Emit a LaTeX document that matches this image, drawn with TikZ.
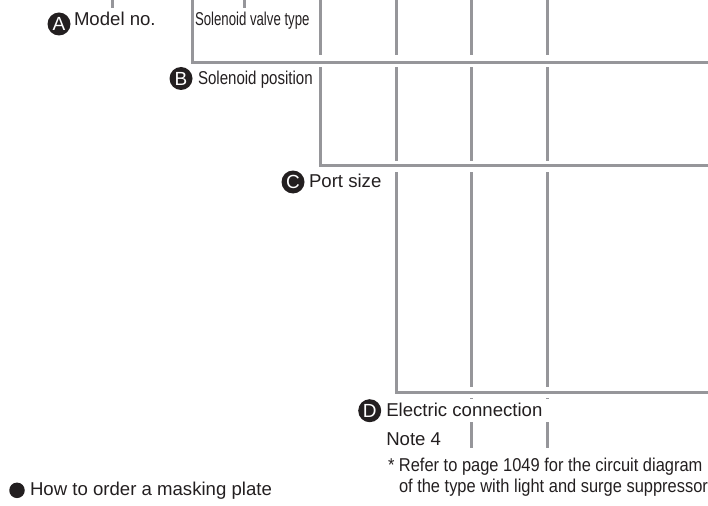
\documentclass[tikz,border=0pt]{standalone}
\usepackage{fontspec}
\setmainfont{Liberation Sans}
\definecolor{ink}{HTML}{231F20}
\definecolor{rule}{HTML}{96969A}
\tikzset{
  x=1pt,y=-1pt,
  rulea/.style={draw=rule,line width=2.6pt},
  lab/.style={anchor=base west,inner sep=0pt,outer sep=0pt,text=ink,font=\fontsize{18.6}{20}\selectfont},
  badge/.style={circle,fill=ink,minimum size=23pt,inner sep=0pt,text=white,font=\fontsize{19}{20}\selectfont},
  dot/.style={circle,fill=ink,minimum size=15.5pt,inner sep=0pt},
  narrow/.style={transform shape,xscale=#1},
}
\begin{document}
\begin{tikzpicture}
\useasboundingbox (0,0) rectangle (708,505);
% top stubs
\draw[rulea] (112.5,0) -- (112.5,8.5);
\draw[rulea] (244.5,0) -- (244.5,8.5);
% stepped frames
\draw[rulea] (192.5,0) -- (192.5,62.5) -- (708,62.5);
\draw[rulea] (320.5,67.5) -- (320.5,165.5) -- (708,165.5);
\draw[rulea] (396.5,172) -- (396.5,392.5) -- (708,392.5);
% column rules
\draw[rulea] (320.5,0) -- (320.5,55.5);
\foreach \cx in {396.5,471.5,547.5}{
  \draw[rulea] (\cx,0) -- (\cx,55.5);
  \draw[rulea] (\cx,67.5) -- (\cx,160.5);
}
\foreach \cx in {471.5,547.5}{
  \draw[rulea] (\cx,172) -- (\cx,386.5);
  \draw[rulea] (\cx,398) -- (\cx,399.3);
  \draw[rulea] (\cx,422) -- (\cx,447.7);
}
% badges
\node[badge] (a) at (59,24) {A};
\node[badge] (b) at (181,78.5) {B};
\node[badge] (c) at (293,182) {C};
\node[badge] (d) at (369.7,410.7) {D};
\node[dot] (m) at (17,490.3) {};
% labels
\node[lab] (ta) at (74,26) {Model no.};
\node[lab,narrow=.71] (tv) at (195,26) {Solenoid valve type};
\node[lab,narrow=.81] (tb) at (198,84.5) {Solenoid position};
\node[lab] (tc) at (309,187.5) {Port size};
\node[lab] (td) at (386.3,416.5) {Electric connection};
\node[lab] (tn) at (386.3,445) {Note 4};
\node[lab,narrow=.884] (t1) at (388,471) {* Refer to page 1049 for the circuit diagram};
\node[lab,narrow=.884] (t2) at (399,492) {of the type with light and surge suppressor};
\node[lab] (tm) at (30,495.7) {How to order a masking plate};
\end{tikzpicture}
\end{document}
